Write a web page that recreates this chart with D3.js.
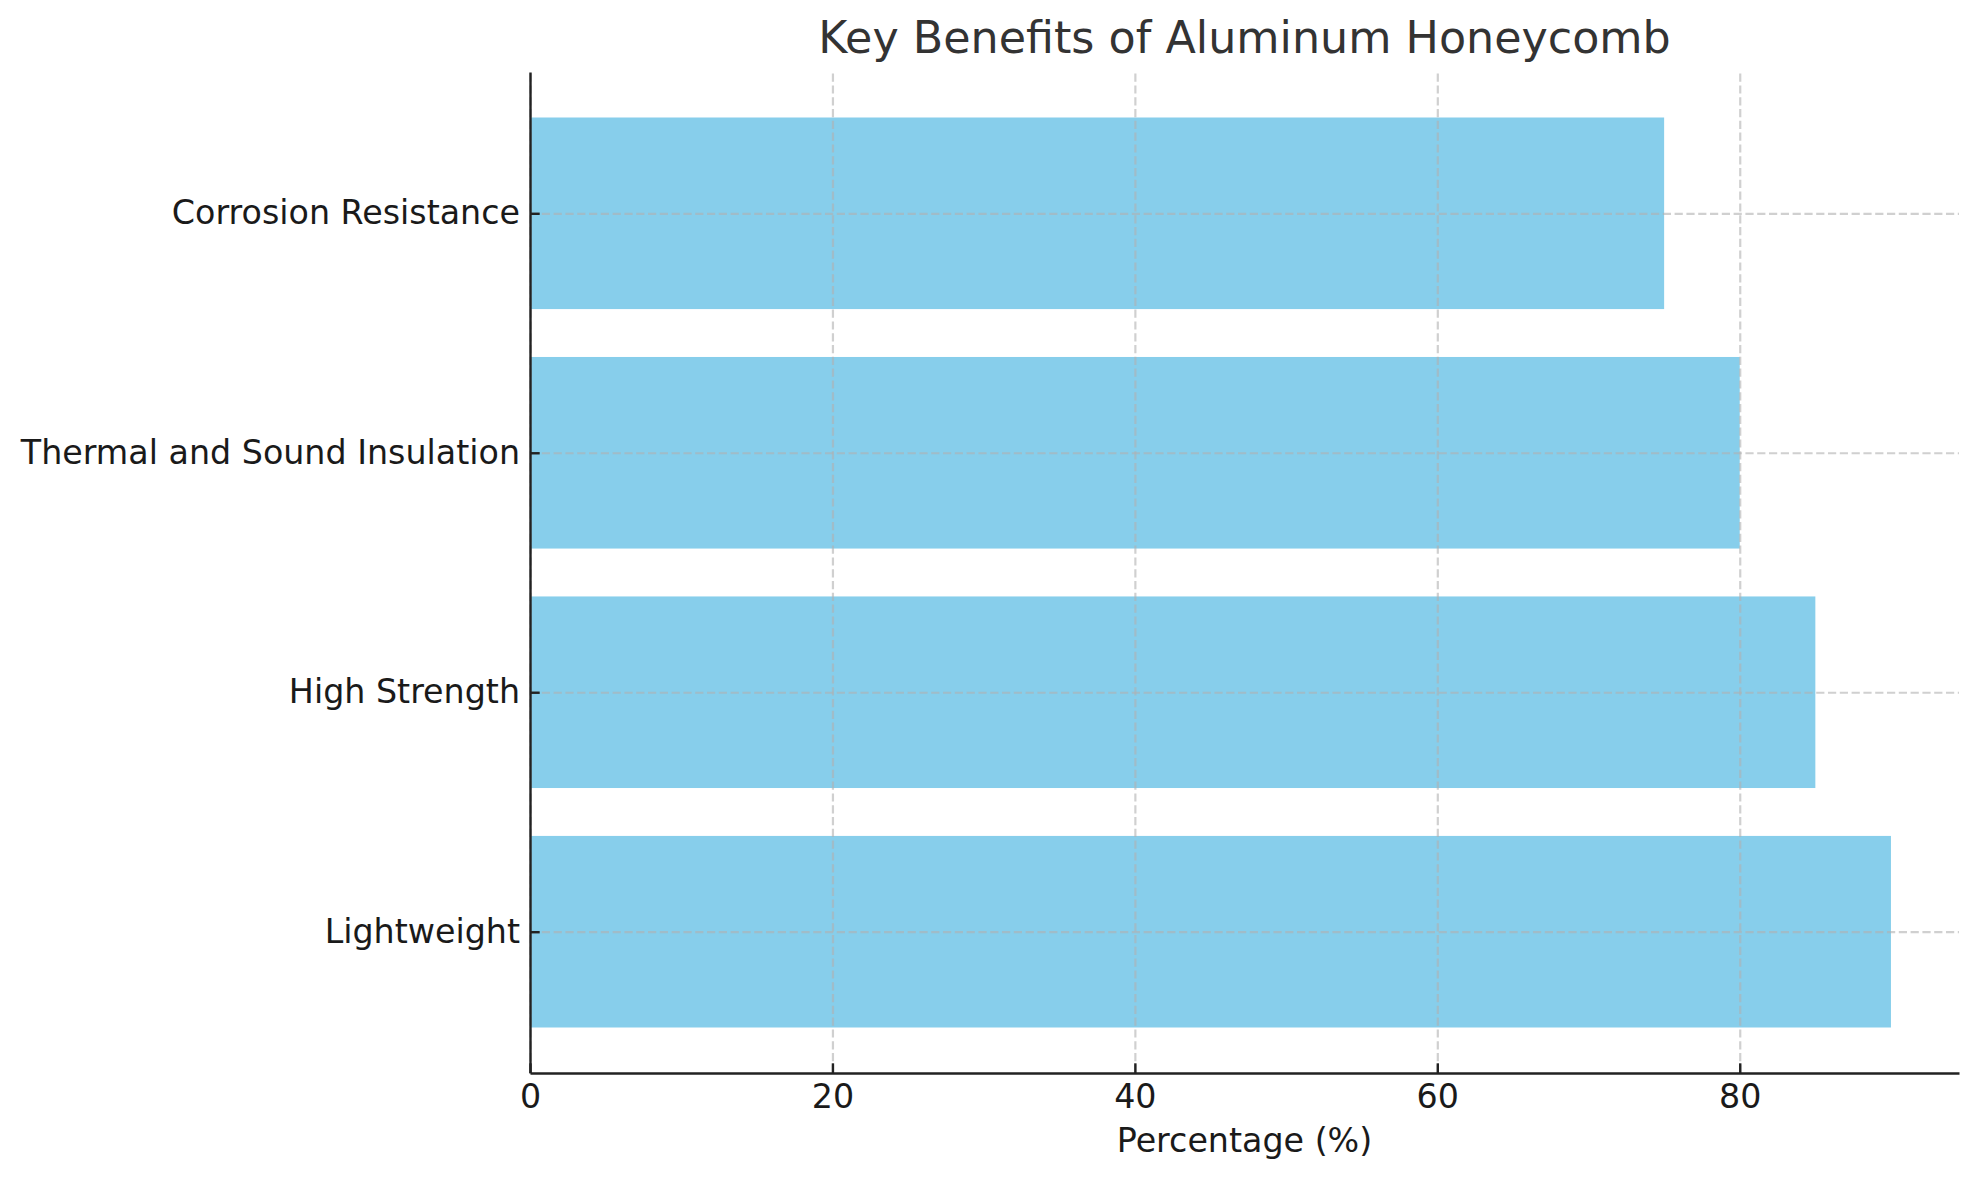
<!DOCTYPE html>
<html lang="en">
<head>
<meta charset="utf-8">
<title>Key Benefits of Aluminum Honeycomb</title>
<script src="https://d3js.org/d3.v7.min.js"></script>
<style>
  body { margin: 0; background: #fff; font-family: "DejaVu Sans", sans-serif; }
  .axis text { font-family: "DejaVu Sans", sans-serif; font-size: 33.3px; fill: #1a1a1a; }
  .axis path, .axis line { stroke: #222; stroke-width: 2.4px; }
  .grid line { stroke: #b0b0b0; stroke-opacity: 0.6; stroke-width: 2.2px; stroke-dasharray: 8.2 3.6; }
  .grid path { display: none; }
  .bar { fill: #87ceeb; }
</style>
</head>
<body>
<div id="viz"></div>
<script>
  // data, bottom to top as plotted
  var categories = ["Lightweight", "High Strength", "Thermal and Sound Insulation", "Corrosion Resistance"];
  var percentages = [90, 85, 80, 75];
  var xTicks = [0, 20, 40, 60, 80];

  var W = 1980, H = 1180;
  var margin = {top: 72, right: 21, bottom: 107, left: 530};
  var width = W - margin.left - margin.right;
  var height = H - margin.top - margin.bottom;

  var data = categories.map(function(c, i) { return {name: c, value: percentages[i], idx: i}; });

  var xMax = d3.max(percentages) * 1.05;
  var x = d3.scaleLinear().domain([0, xMax]).range([0, width]);

  // bars are 0.8 thick with 5% margins like matplotlib barh
  var barH = 0.8;
  var span = (categories.length - 1) + barH;
  var yLo = -barH / 2 - span * 0.05, yHi = categories.length - 1 + barH / 2 + span * 0.05;
  var y = d3.scaleLinear().domain([yLo, yHi]).range([height, 0]);

  var svg = d3.select("#viz").append("svg")
    .attr("width", W)
    .attr("height", H);

  var g = svg.append("g")
    .attr("transform", "translate(" + margin.left + "," + margin.top + ")");

  g.selectAll(".bar")
    .data(data)
    .enter()
    .append("rect")
    .attr("class", "bar")
    .attr("x", x(0))
    .attr("y", function(d) { return y(d.idx + barH / 2); })
    .attr("width", function(d) { return x(d.value) - x(0); })
    .attr("height", function(d) { return y(d.idx - barH / 2) - y(d.idx + barH / 2); });

  // grid on top of bars
  g.append("g")
    .attr("class", "grid")
    .attr("transform", "translate(0," + height + ")")
    .call(d3.axisBottom(x).tickValues(xTicks).tickSize(-height).tickFormat(""));

  g.append("g")
    .attr("class", "grid")
    .call(d3.axisLeft(y).tickValues(d3.range(categories.length)).tickSize(-width).tickFormat(""));

  g.append("g")
    .attr("class", "axis")
    .call(d3.axisLeft(y)
      .tickValues(d3.range(categories.length))
      .tickFormat(function(i) { return categories[i]; })
      .tickSizeInner(-9.7)
      .tickSizeOuter(0)
      .tickPadding(10));

  g.append("g")
    .attr("class", "axis")
    .attr("transform", "translate(0," + height + ")")
    .call(d3.axisBottom(x)
      .tickValues(xTicks)
      .tickFormat(d3.format("d"))
      .tickSizeInner(-9.7)
      .tickSizeOuter(0)
      .tickPadding(11.5));

  svg.append("text")
    .attr("x", margin.left + width / 2)
    .attr("y", 1152)
    .attr("text-anchor", "middle")
    .style("font-size", "33.3px")
    .style("fill", "#1a1a1a")
    .text("Percentage (%)");

  svg.append("text")
    .attr("x", margin.left + width / 2)
    .attr("y", 53)
    .attr("text-anchor", "middle")
    .style("font-size", "44.4px")
    .style("fill", "#333")
    .text("Key Benefits of Aluminum Honeycomb");
</script>
</body>
</html>
